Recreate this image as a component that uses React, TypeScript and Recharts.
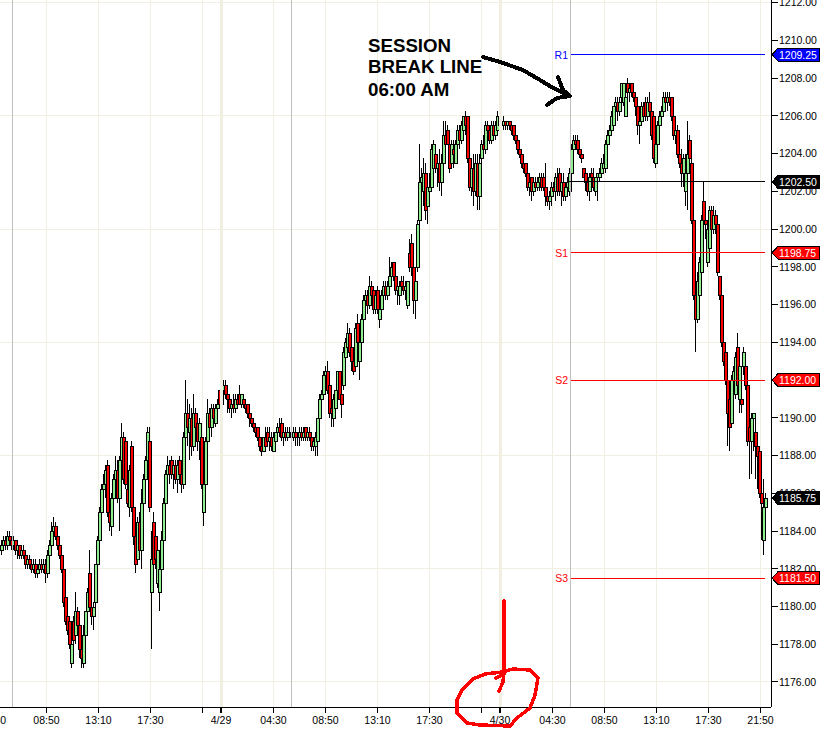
import { ComposedChart, Bar, XAxis, YAxis, CartesianGrid, ReferenceLine, ReferenceDot } from 'recharts';

const opens = [
  1183,1183.25,1183.5,1183.25,1183.75,1183.5,1183.25,1183.5,1183,1183.25,
  1182.75,1183,1182.75,1182.25,1182.5,1182.25,1182,1182.25,1181.75,1182,
  1182.25,1182,1182.25,1181.75,1182.75,1183.25,1184,1184.25,1183.75,1183.25,
  1182.75,1182,1180.5,1179.5,1179.25,1177,1179.25,1178.5,1179.75,1179,
  1177.75,1177,1178.5,1179.75,1181.75,1180,1179.5,1180.25,1182.25,1183.5,
  1185,1186.25,1186.5,1187.5,1185,1184.25,1185.75,1186.75,1187.25,1185.75,
  1187.75,1189,1188.75,1186.25,1185.25,1188.5,1185.25,1183.75,1182.5,1184.5,
  1183,1185.5,1186.75,1187.75,1188.75,1180.75,1184.5,1183.75,1181.25,1180.75,
  1182,1183.5,1185.5,1187,1187.5,1187.75,1187,1187.5,1186.75,1187.75,
  1187,1186.5,1189,1190.25,1189.25,1190,1188.5,1190.25,1189.75,1188.75,
  1189,1185,1186.5,1188.75,1190.25,1189.5,1190.5,1189.75,1190.5,1191.5,
  1190.75,1191.5,1191.75,1191.25,1191,1190.5,1190.75,1190.5,1191,1191.25,
  1190.75,1191,1190.75,1190.75,1190.25,1190,1189.75,1189.5,1189.5,1189,
  1188.5,1188.25,1189,1189.25,1188.75,1189,1188.25,1188.75,1189.25,1189.5,
  1189.75,1189,1189.25,1189,1189.25,1189.25,1189,1189.25,1189,1189,
  1189.25,1189,1189.5,1189,1189.25,1189,1188.5,1188.5,1188.75,1190,
  1191,1191.25,1192.25,1192.5,1191.75,1190.5,1190,1190.5,1191.5,1192.5,
  1191.25,1191.75,1193.25,1193.75,1194.5,1193.75,1193,1192.75,1195,1193,
  1194,1195.25,1196.25,1196.5,1196,1197,1196.75,1195.75,1196.75,1195.25,
  1195.75,1196.5,1197,1196.5,1197,1197.5,1198.25,1197.5,1196.75,1196.5,
  1197.25,1197,1196.75,1196,1198.75,1199.25,1198,1196.25,1198,1200.5,
  1202.5,1202,1203,1201.25,1202,1202.25,1203.25,1204,1203.25,1203.5,
  1202.5,1203.5,1205,1205.25,1204.5,1203.5,1204.25,1203.5,1204.5,1205.25,
  1204.75,1205.25,1206,1206,1203.75,1202.25,1203.25,1202,1203.5,1201.75,
  1203.75,1204.5,1204.25,1205.5,1205.25,1204.75,1205.5,1205,1205.25,1206,
  1205.75,1205.5,1205.75,1205.5,1205.75,1205.5,1205.5,1205,1204.75,1204.25,
  1204,1203.5,1203.5,1203,1202.25,1202.75,1202,1202.5,1202.25,1202.5,
  1202.75,1202.75,1202.25,1201.75,1201.5,1201.75,1202.25,1202,1202.75,1203,
  1202,1202.5,1201.75,1202.25,1202,1203,1204.25,1204.75,1204.75,1204.25,
  1204,1203.25,1203,1202.5,1202,1203,1202.75,1202,1202.75,1202.75,
  1203,1203.25,1203.25,1204.5,1205,1205.25,1205.5,1206.5,1206.75,1206.25,
  1207,1206.75,1206,1207.75,1207.25,1207.75,1207.25,1207,1206.5,1205.5,
  1205.75,1206.5,1206.75,1206,1206.75,1206.25,1206,1203.5,1204.5,1205.5,
  1206,1206.25,1207,1206.75,1207,1207,1206,1205,1205.25,1204,
  1203.5,1203,1202,1203,1204.75,1203.5,1200.5,1196.5,1195.25,1196.5,
  1197.75,1201.5,1200.5,1198.25,1199,1201,1200,1200.75,1200.25,1197.5,
  1196.5,1194,1193.5,1192,1191,1189.75,1192,1191.25,1193.75,1191,
  1191,1192.75,1192.75,1191.75,1189.5,1188.75,1190,1189.25,1188.5,1188.25,
  1186,1183.5,1185.25,
];

const highs = [
  1183.5,1183.75,1183.75,1184,1184,1183.75,1183.75,1183.5,1183.5,1183.25,
  1183.25,1183.25,1183,1182.75,1182.75,1182.5,1182.5,1182.5,1182.25,1182.5,
  1182.5,1182.5,1182.5,1183,1183.5,1184.5,1184.75,1184.5,1184,1183.5,
  1183,1182,1180.5,1180,1179.5,1178,1179.5,1180.75,1180,1179.25,
  1178.25,1179,1179.75,1181,1183,1181.25,1180.25,1182.25,1183.75,1185.25,
  1186.5,1187,1187.5,1187.75,1185.75,1186,1187,1188,1187.75,1188,
  1189.75,1189.25,1189,1186.5,1187.5,1188.75,1185.75,1184,1184.75,1185,
  1186.25,1187,1188,1189.5,1189.5,1184,1185,1184.5,1183.5,1182,
  1184,1185.75,1187.25,1188,1187.75,1188,1187.75,1187.75,1187.75,1188,
  1187.5,1189.25,1192,1191,1190.75,1190.5,1191.25,1190.5,1190,1190,
  1189.25,1187,1189,1191,1190.5,1190.75,1190.75,1190.75,1191,1191.5,
  1191.75,1192,1192,1191.5,1191.25,1191,1191.25,1191.25,1191.25,1191.75,
  1191.25,1191.25,1191,1190.75,1190.75,1190.25,1190,1189.75,1189.5,1189,
  1188.75,1189,1189.5,1189.5,1189.5,1189.25,1189.25,1189.25,1189.75,1190,
  1190,1189.5,1189.5,1189.5,1189.5,1189.5,1189.5,1189.5,1189.25,1189.5,
  1189.5,1189.5,1189.5,1189.5,1189.5,1189.25,1189,1189.25,1190,1191.25,
  1191.5,1192.5,1192.75,1193,1192,1191.25,1191.25,1191.5,1192.5,1192.5,
  1191.5,1193.75,1194.25,1195,1194.75,1194,1193.25,1195,1195.5,1194,
  1195.5,1196.5,1196.75,1196.75,1197.5,1197.25,1196.75,1196.75,1197,1196,
  1196.75,1197.25,1197.25,1197.25,1198.5,1198.25,1198.25,1197.75,1197.25,1197.25,
  1197.5,1197.5,1197.25,1197.25,1199.5,1199.75,1199,1198,1200.5,1204.5,
  1203.25,1203.75,1203.5,1202.75,1203,1204.5,1204.75,1204.5,1203.75,1204.25,
  1204,1205.75,1205.75,1205.5,1204.75,1204.75,1204.75,1204.75,1205.5,1205.5,
  1205.75,1206,1206.25,1206,1204,1203.5,1204,1204,1204,1204,
  1204.75,1205,1205.75,1205.75,1205.25,1205.75,1205.75,1205.75,1206.25,1206.25,
  1206,1206,1205.75,1205.75,1205.75,1205.75,1205.5,1205,1204.75,1204.5,
  1204,1203.75,1203.5,1203,1202.75,1202.75,1202.75,1202.75,1202.75,1203,
  1203,1203,1203.5,1202,1202,1202.5,1202.5,1203,1203.25,1203.25,
  1202.75,1203,1202.5,1202.75,1203.25,1204.5,1205,1205,1205,1204.75,
  1204.25,1203.25,1203,1202.75,1203,1203.25,1203.25,1202.75,1203,1203.25,
  1203.75,1204,1204.75,1205.25,1205.5,1206.25,1206.5,1207,1207,1207,
  1207.75,1207.75,1207.25,1208,1207.75,1207.75,1207.5,1207,1206.5,1206,
  1206.75,1206.75,1207,1207,1207.25,1206.5,1206,1204.75,1205.75,1206.25,
  1206.5,1207.25,1207.25,1207.25,1207.25,1207,1206.25,1205.5,1205.5,1204.25,
  1204.25,1204,1204,1205.75,1205,1203.75,1200.75,1196.75,1197.75,1198.5,
  1200.75,1202.5,1201,1200.25,1201.25,1201.25,1201.25,1201,1200.25,1197.5,
  1196.75,1194.25,1194,1192.25,1191.25,1192.25,1192.75,1193.5,1194.5,1193,
  1191.25,1193.75,1193.5,1192,1190,1190.25,1190.25,1190,1188.75,1188.5,
  1186.5,1186.75,1186,
];

const lows = [
  1182.75,1183,1183,1183,1183.25,1183,1183,1182.75,1182.5,1182.5,
  1182.5,1182.5,1182,1182,1182,1181.75,1181.75,1181.5,1181.5,1181.75,
  1181.75,1181.75,1181.25,1181.5,1182.5,1183,1183.75,1183.5,1183,1182.5,
  1181.75,1180,1179,1178.5,1177.75,1176.75,1178,1178,1178.75,1177.25,
  1176.75,1176.75,1178.25,1178.75,1179.75,1179,1178.75,1180,1181.75,1183.25,
  1184.75,1186,1185.75,1184.75,1184,1183.75,1185.5,1186,1185.5,1184,
  1187.25,1186.5,1186.25,1185.25,1184.75,1185,1183.25,1181.75,1182.25,1182.5,
  1182,1184.5,1186.5,1187.25,1185,1177.75,1182,1182,1181,1179.75,
  1181.25,1183.25,1185.25,1186.5,1186.5,1186.75,1186.25,1186.5,1186,1186.5,
  1186,1186.25,1188.5,1188.5,1187.75,1188,1188.25,1188.5,1188.25,1187.75,
  1186.25,1184.25,1186.25,1188.5,1189.25,1189,1189.75,1189.5,1190.25,1190.5,
  1190.5,1190.75,1191,1190.25,1190.25,1190,1190.25,1190.25,1190.5,1190.75,
  1190.5,1190.5,1190.25,1190,1189.5,1189.5,1189.25,1189,1188.75,1188.25,
  1188,1188.25,1188.25,1188.5,1188.25,1188.25,1188.25,1188.5,1189,1189,
  1188.75,1188.5,1188.75,1188.75,1189,1188.75,1188.75,1188.5,1188.5,1188.5,
  1188.75,1188.75,1188.75,1188.75,1188.75,1188.25,1188.25,1188,1188,1189.75,
  1190.75,1191,1191.75,1191.25,1190,1189.5,1189.5,1190.25,1191.25,1191,
  1190,1191.5,1193,1193.25,1193.25,1192.5,1192.25,1192.5,1193.75,1192,
  1193.75,1195,1195.25,1195.5,1195.75,1196,1195.5,1195.5,1195.5,1194.75,
  1195.25,1196,1196.25,1196.25,1196.75,1197,1197.25,1196.5,1196,1196,
  1196.75,1196.5,1196.25,1195.75,1197.75,1197.5,1195.5,1195.25,1197.75,1200.25,
  1200.75,1201.25,1200.5,1200.25,1201.25,1202,1203,1203,1202.25,1202,
  1201.75,1203.25,1204.25,1204.5,1203,1203.25,1203.25,1203.5,1204.25,1204.25,
  1204.5,1205,1205,1203.5,1202,1201.75,1201.25,1201.75,1201,1201,
  1203.25,1203.75,1204,1204.5,1204.5,1204.5,1204.75,1204.75,1205,1205.25,
  1205.25,1205.25,1205.25,1205.25,1205.25,1205,1204.75,1204.5,1204,1203.75,
  1203.25,1203,1202.75,1202,1201.75,1201.5,1201.75,1202,1202,1202,
  1202,1202,1201.25,1201.25,1201,1201.25,1201.75,1201.5,1201.75,1201.75,
  1201.25,1201.5,1201.5,1201.75,1201.75,1202.75,1204,1204.25,1204,1203.75,
  1203.5,1202.75,1202,1201.75,1201.5,1202.25,1202,1201.75,1201.5,1202.5,
  1202.75,1203,1203,1204.25,1204.75,1205,1205.25,1206,1205.75,1206,
  1206.5,1206.5,1206,1207,1206.75,1207,1206.75,1206,1205,1204.5,
  1205.5,1205.75,1205.75,1205.75,1206,1204.75,1203.5,1203.25,1204,1205.25,
  1205.75,1206,1206.5,1206.25,1206.5,1205.75,1204.75,1204.5,1203.75,1203.25,
  1202.25,1202.25,1201.25,1201,1203.5,1200.25,1196.25,1193.5,1195,1195.5,
  1197.5,1200.25,1199.5,1198,1198.75,1199.75,1199.75,1199.75,1197.5,1196.25,
  1193.75,1192.75,1191.75,1188.5,1188.25,1189.5,1191.25,1191,1191.5,1190.25,
  1190.25,1192.25,1191.5,1188.5,1186.75,1187,1188.25,1186.75,1186.25,1185.75,
  1183.5,1182.75,1185,
];

const closes = [
  1183.25,1183.5,1183.25,1183.75,1183.5,1183.25,1183.5,1183,1183.25,1182.75,
  1183,1182.75,1182.25,1182.5,1182.25,1182,1182.25,1181.75,1182,1182.25,
  1182,1182.25,1181.75,1182.75,1183.25,1184,1184.25,1183.75,1183.25,1182.75,
  1182,1180.25,1179.25,1178.75,1178,1178,1178.25,1179.75,1179,1177.75,
  1177.25,1178.5,1179.75,1180.75,1180,1179.5,1180,1182.25,1183.5,1185,
  1186.25,1186.5,1187.25,1185,1184.5,1185.75,1186.75,1187.25,1185.75,1187.75,
  1189,1186.75,1186.5,1185.5,1187.25,1185.25,1183.75,1182.25,1184.5,1183,
  1185.5,1186.75,1187.75,1189.25,1185.25,1182.5,1182.25,1182.5,1183,1182,
  1183.5,1185.5,1187,1187.5,1187,1187,1187.5,1186.75,1187.5,1187,
  1186.5,1189,1190.25,1189.5,1190,1188.5,1190.25,1189.5,1188.75,1189.75,
  1186.5,1186.5,1188.75,1190.25,1189.5,1190.5,1190,1190.5,1190.75,1190.75,
  1191.5,1191.75,1191.25,1191,1190.5,1190.75,1190.5,1191,1190.75,1190.75,
  1191.25,1190.75,1190.5,1190.25,1190,1189.75,1189.5,1189.25,1189,1188.5,
  1188.25,1189,1188.5,1188.75,1189,1188.5,1189,1189.25,1189.5,1189.25,
  1189,1189.25,1189,1189.25,1189.25,1189,1189.25,1189,1189,1189.25,
  1189,1189.25,1189,1189.25,1189,1188.5,1188.75,1189,1190,1191,
  1191.25,1192.25,1192.5,1191.5,1190.25,1190.25,1191,1191.5,1192.5,1191,
  1190.75,1193.5,1194,1194.5,1193.5,1193,1192.5,1194.75,1194,1194,
  1195.25,1196.25,1196.5,1196,1197,1196.5,1195.75,1196.5,1195.75,1195.75,
  1196.5,1197,1196.5,1197,1197.5,1198,1197.5,1196.75,1197,1197,
  1197,1196.75,1197,1197.25,1198,1198,1196.25,1197.25,1200.25,1202.5,
  1202.75,1203,1201,1202.25,1202.25,1204.25,1204.5,1203.25,1203.5,1202.5,
  1203.5,1205,1204.5,1204.5,1203.25,1204.5,1204,1204.5,1205.25,1204.75,
  1205.5,1206,1205.5,1203.75,1202.25,1203.25,1202,1203.5,1201.75,1203.5,
  1204.5,1204.25,1205.5,1205.25,1204.75,1205.5,1205,1205.5,1206,1205.5,
  1205.5,1205.75,1205.5,1205.75,1205.5,1205.25,1205,1204.75,1204.25,1204,
  1203.5,1203.25,1203,1202.25,1202.5,1202,1202.5,1202.25,1202.5,1202.75,
  1202.25,1202.25,1201.75,1201.5,1201.75,1202.25,1202,1202.75,1202,1202,
  1202.5,1201.75,1202.25,1202.5,1203,1204.25,1204.75,1204.5,1204.25,1204,
  1203.75,1202.75,1202.5,1202,1202.75,1202.75,1202.25,1202.75,1203,1203,
  1203.5,1203.5,1204.5,1205,1205.25,1206,1206.5,1206.75,1206.25,1206.75,
  1207.75,1207.75,1207,1207.25,1207.5,1207.25,1207,1206.5,1205.5,1205.75,
  1206.5,1206,1206,1206.75,1206.25,1205,1203.75,1204.5,1205.5,1206,
  1206.25,1207,1206.75,1207,1206.75,1206,1205,1205.25,1204,1203.5,
  1203,1203.75,1203,1204,1203.75,1200.5,1196.5,1195.25,1197.25,1198.25,
  1200.5,1200.5,1200.25,1200,1201,1200,1200.75,1200.25,1197.75,1196.5,
  1194,1193,1192,1190.25,1189.5,1192,1192.5,1193.25,1191.75,1192.75,
  1190.75,1193.5,1191.75,1188.75,1188.75,1190,1190.25,1188.5,1188,1186,
  1185.5,1185.25,1185.75,
];

// bar number on the time axis, one label per tick ('' = tick without a label)
const axisTicks = [-0.5, 22.75, 48.75, 74.75, 100.75, 110, 136.25, 162.25, 188.25, 214.25, 240.25, 249.5, 275.75, 301.75, 327.75, 353.75, 379.75];
const axisLabels = ['04:30', '08:50', '13:10', '17:30', '', '4/29', '04:30', '08:50', '13:10', '17:30', '', '4/30', '04:30', '08:50', '13:10', '17:30', '21:50'];
const dateTicks = [110, 249.5];
const sessionBreaks = [5.75, 145.25, 284.75];
const gridTicks = axisTicks.slice(1);

const priceTicks = [1212, 1210, 1208, 1206, 1204, 1202, 1200, 1198, 1196, 1194, 1192, 1190, 1188, 1186, 1184, 1182, 1180, 1178, 1176];
const gridPrices = [1212, 1206, 1200, 1194, 1188, 1182, 1176];

const levelNames = ['R1', '', 'S1', 'S2', 'S3'];
const levelPrices = [1209.25, 1202.5, 1198.75, 1192, 1181.5];
const levelColors = ['#0000ff', '#000000', '#ff0000', '#ff0000', '#ff0000'];
const lastPrice = 1185.75;

const FONT = '"Liberation Sans", Arial, sans-serif';
const GRID = '#f1efe2';
const X_DOMAIN = [-0.5, 385];
const Y_DOMAIN = [1174.675, 1212.143];

const chartData = opens.map((open, i) => ({ i, open, high: highs[i], low: lows[i], close: closes[i] }));

function Candle(props: any) {
  const { x, y, width, height, payload } = props;
  const { open, high, low, close } = payload;
  const perPrice = height / (high - low);
  const cx = Math.round(x + width / 2);
  const top = Math.round(y + (high - Math.max(open, close)) * perPrice);
  const bottom = Math.round(y + (high - Math.min(open, close)) * perPrice);
  const bodyHeight = Math.max(bottom - top, 0);
  return (
    <g>
      <rect x={cx} y={y} width={1} height={height} fill="#000" />
      <rect x={cx - 1} y={top} width={4} height={bodyHeight + 1} fill="#000" />
      {bodyHeight > 1 && (
        <rect
          x={cx}
          y={top + 1}
          width={2}
          height={bodyHeight - 1}
          fill={close >= open ? '#90ee90' : '#ff0000'}
        />
      )}
    </g>
  );
}

function TimeTick(props: any) {
  const { x, y, payload, index } = props;
  const first = index === 0;
  const thick = dateTicks.includes(payload.value);
  return (
    <g>
      {!first && <line x1={x} x2={x} y1={y} y2={y + 6} stroke="#000" strokeWidth={thick ? 2 : 1} />}
      <text x={first ? x - 7 : x} y={y + 17} textAnchor="middle" fontSize={10.5} fontFamily={FONT} fill="#000">
        {axisLabels[index]}
      </text>
    </g>
  );
}

function PriceFlag(props: any) {
  const { cx, cy, color, value } = props;
  const points = [
    [cx + 1, cy],
    [cx + 7, cy - 6.5],
    [cx + 48, cy - 6.5],
    [cx + 48, cy + 6.5],
    [cx + 7, cy + 6.5],
  ].map((p) => p.join(',')).join(' ');
  return (
    <g>
      <polygon points={points} fill={color} stroke="#000" />
      <text x={cx + 8} y={cy + 4} fontSize={10.5} fontFamily={FONT} fill="#fff">
        {value.toFixed(2)}
      </text>
    </g>
  );
}

function LevelName(props: any) {
  const { cx, cy, color, name } = props;
  return (
    <text x={cx - 3} y={cy + 4} textAnchor="end" fontSize={10.5} fontFamily={FONT} fill={color}>
      {name}
    </text>
  );
}

export default function App() {
  return (
    <div style={{ position: 'absolute', left: 0, top: 0, width: 829, height: 731, background: '#fff', shapeRendering: 'crispEdges' }}>
      <ComposedChart
        width={829}
        height={731}
        data={chartData}
        margin={{ top: 0, right: 0, bottom: 0, left: 0 }}
      >
        <CartesianGrid stroke={GRID} verticalValues={gridTicks} horizontalValues={gridPrices} />
        {dateTicks.map((t) => (
          <ReferenceLine key={t} x={t} stroke={GRID} strokeWidth={3} />
        ))}
        {sessionBreaks.map((t) => (
          <ReferenceLine key={t} x={t} stroke="#c0c0c0" />
        ))}
        <XAxis
          dataKey="i"
          type="number"
          domain={X_DOMAIN}
          ticks={axisTicks}
          interval={0}
          height={24}
          tickSize={0}
          tickMargin={0}
          tick={<TimeTick />}
          tickLine={false}
          axisLine={{ stroke: '#000' }}
        />
        <YAxis
          orientation="right"
          type="number"
          domain={Y_DOMAIN}
          ticks={priceTicks}
          interval={0}
          width={58}
          tickSize={7}
          tickMargin={1}
          tickFormatter={(v: number) => v.toFixed(2)}
          tick={{ fill: '#000', fontSize: 10.5, fontFamily: FONT }}
          tickLine={{ stroke: '#000' }}
          axisLine={{ stroke: '#000' }}
        />
        <Bar
          dataKey={(d: any) => [d.low, d.high]}
          barSize={3}
          shape={<Candle />}
          isAnimationActive={false}
        />
        {levelPrices.map((price, i) => (
          <ReferenceLine
            key={price}
            segment={[{ x: i === 1 ? 283 : 285, y: price }, { x: 382, y: price }]}
            stroke={levelColors[i]}
          />
        ))}
        {levelPrices.map((price, i) => (
          <ReferenceDot
            key={price}
            x={285}
            y={price}
            ifOverflow="visible"
            shape={<LevelName color={levelColors[i]} name={levelNames[i]} />}
          />
        ))}
      </ComposedChart>

      {/* the price flags sit over the axis labels, so they get a chart of their own on top */}
      <div style={{ position: 'absolute', left: 0, top: 0 }}>
        <ComposedChart
          width={829}
          height={731}
          data={chartData}
          margin={{ top: 0, right: 0, bottom: 0, left: 0 }}
        >
          <XAxis dataKey="i" type="number" domain={X_DOMAIN} height={24} tick={false} tickLine={false} axisLine={false} />
          <YAxis orientation="right" type="number" domain={Y_DOMAIN} width={58} tick={false} tickLine={false} axisLine={false} />
          <Bar dataKey="close" barSize={1} shape={() => null} isAnimationActive={false} />
          {levelPrices.map((price, i) => (
            <ReferenceDot
              key={price}
              x={385}
              y={price}
              ifOverflow="visible"
              shape={<PriceFlag color={levelColors[i]} value={price} />}
            />
          ))}
          <ReferenceDot
            x={385}
            y={lastPrice}
            ifOverflow="visible"
            shape={<PriceFlag color="#000" value={lastPrice} />}
          />
        </ComposedChart>
      </div>

      {/* hand-drawn notes on top of the chart */}
      <svg width={829} height={731} style={{ position: 'absolute', left: 0, top: 0, pointerEvents: 'none' }}>
        <g fontFamily={FONT} fontSize={18.7} fontWeight="bold" fill="#000">
          <text x={368} y={52}>SESSION</text>
          <text x={368} y={73}>BREAK LINE</text>
          <text x={368} y={96}>06:00 AM</text>
        </g>
        <g fill="none" stroke="#000" strokeWidth={4} strokeLinecap="round" strokeLinejoin="round">
          <path d="M483 57 L500 62 L523 70 L540 80 L553 88 L570 96" />
          <path d="M558 77 L563 90 L570 96 L557 98 L547 105" />
        </g>
        <g fill="none" stroke="#ff0000" strokeWidth={3.5} strokeLinecap="round" strokeLinejoin="round">
          <path d="M504 601 L504 672 L503 682 L499 691" />
          <path d="M496 678 L504 674" />
          <path d="M502 672 L485 674 L473 679 L462 690 L457 700 L457 713 L467 723 L480 725 L510 726 L517 718 L530 708 L535 695 L538 678 L530 670 L513 669 L502 672" />
        </g>
      </svg>
    </div>
  );
}
